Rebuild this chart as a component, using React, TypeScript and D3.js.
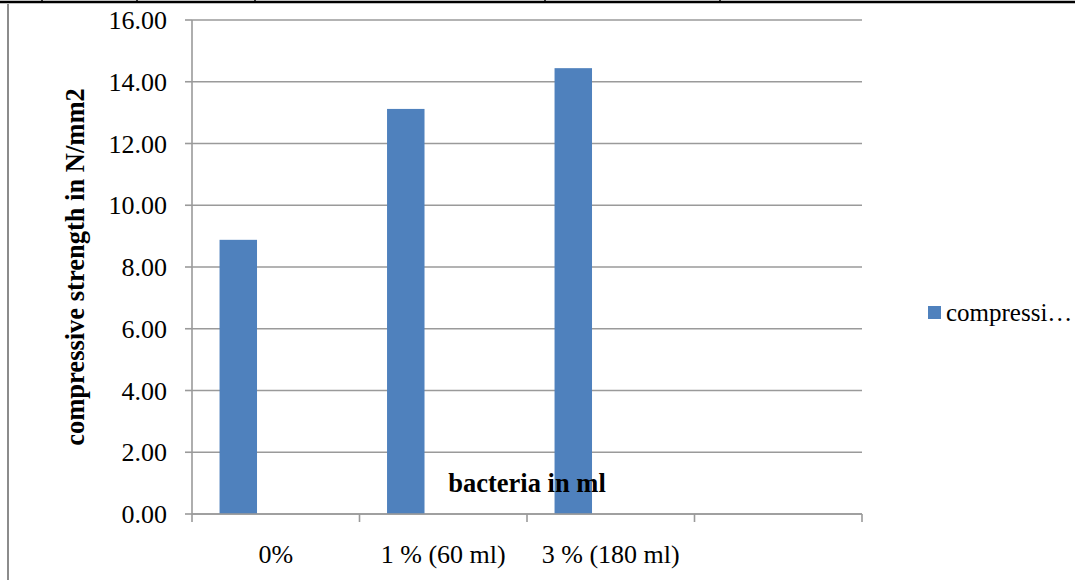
import React from "react";
import * as d3 from "d3";

// Compressive strength (N/mm2) by bacteria dosage
const categories = ["0%", "1 % (60 ml)", "3 % (180 ml)", ""];
const strength = [8.88, 13.12, 14.44];
const seriesSlots = ["compressive strength", "s2", "s3"];
const yTicks = [0, 2, 4, 6, 8, 10, 12, 14, 16];
const legendLabel = "compressi…";

const W = 1075;
const H = 580;
const plot = { left: 192, right: 862, top: 20, bottom: 514 };

export default function App() {
  const y = d3.scaleLinear().domain([0, 16]).range([plot.bottom, plot.top]);
  const x = d3
    .scaleBand<string>()
    .domain(categories)
    .range([plot.left, plot.right])
    .padding(0);
  const inner = d3
    .scaleBand<string>()
    .domain(seriesSlots)
    .range([0, x.bandwidth()])
    .paddingInner(0)
    .paddingOuter(0.735);

  const boundaries = categories.map((c) => x(c) as number).concat([plot.right]);
  const font = "'Liberation Serif', 'Times New Roman', serif";
  const grid = "#9a9a9a";

  return (
    <svg
      width={W}
      height={H}
      style={{ position: "fixed", left: 0, top: 0, background: "#fff" }}
      fontFamily={font}
    >
      {/* table rule above the chart */}
      <line x1={0} x2={W} y1={2} y2={2} stroke="#000" strokeWidth={2.5} />
      {[42, 137, 255, 545, 720].map((tx) => (
        <line key={tx} x1={tx} x2={tx} y1={0} y2={3} stroke="#000" strokeWidth={1.5} />
      ))}
      {/* chart frame left edge */}
      <line x1={8} x2={8} y1={4} y2={H} stroke="#8c8c8c" strokeWidth={2} />

      {/* gridlines */}
      {yTicks.map((t) => (
        <line
          key={"g" + t}
          x1={plot.left}
          x2={plot.right}
          y1={y(t)}
          y2={y(t)}
          stroke={grid}
          strokeWidth={1.6}
        />
      ))}

      {/* y axis */}
      <line x1={plot.left} x2={plot.left} y1={plot.top} y2={plot.bottom} stroke={grid} strokeWidth={1.6} />
      {yTicks.map((t) => (
        <g key={"yt" + t}>
          <line x1={plot.left - 7} x2={plot.left} y1={y(t)} y2={y(t)} stroke={grid} strokeWidth={1.6} />
          <text x={167} y={y(t)} dy="0.35em" textAnchor="end" fontSize={26} fill="#000">
            {t.toFixed(2)}
          </text>
        </g>
      ))}

      {/* bars */}
      {strength.map((v, i) => (
        <rect
          key={"b" + i}
          x={(x(categories[i]) as number) + (inner(seriesSlots[0]) as number)}
          y={y(v)}
          width={inner.bandwidth()}
          height={y(0) - y(v)}
          fill="#4F81BD"
        />
      ))}

      {/* x axis */}
      <line x1={plot.left} x2={plot.right} y1={plot.bottom} y2={plot.bottom} stroke={grid} strokeWidth={1.6} />
      {boundaries.map((bx, i) => (
        <line key={"xt" + i} x1={bx} x2={bx} y1={plot.bottom} y2={plot.bottom + 8} stroke={grid} strokeWidth={1.6} />
      ))}
      {categories.map((c) => (
        <text
          key={"xl" + c}
          x={(x(c) as number) + x.bandwidth() / 2}
          y={563}
          textAnchor="middle"
          fontSize={26}
          fill="#000"
          style={{ whiteSpace: "pre" }}
        >
          {c}
        </text>
      ))}

      {/* axis titles */}
      <text
        x={(plot.left + plot.right) / 2}
        y={492}
        textAnchor="middle"
        fontSize={26.5}
        fontWeight="bold"
        fill="#000"
      >
        bacteria in ml
      </text>
      <text
        transform={`translate(84, ${(plot.top + plot.bottom) / 2}) rotate(-90)`}
        textAnchor="middle"
        fontSize={26.5}
        fontWeight="bold"
        fill="#000"
      >
        compressive strength in N/mm2
      </text>

      {/* legend */}
      <rect x={928} y={306} width={13} height={13} fill="#4F81BD" />
      <text x={946} y={321} fontSize={25} fill="#000">
        {legendLabel}
      </text>
    </svg>
  );
}
